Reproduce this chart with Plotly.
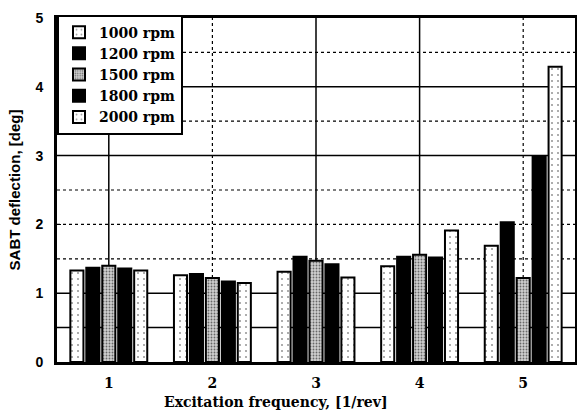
import plotly.graph_objects as go

categories = [1, 2, 3, 4, 5]
tick_labels = ["1", "2", "3", "4", "5"]
series_names = ["1000 rpm", "1200 rpm", "1500 rpm", "1800 rpm", "2000 rpm"]
rpm_1000 = [1.33, 1.26, 1.31, 1.39, 1.69]
rpm_1200 = [1.37, 1.28, 1.53, 1.53, 2.03]
rpm_1500 = [1.40, 1.22, 1.47, 1.56, 1.22]
rpm_1800 = [1.36, 1.17, 1.42, 1.52, 2.98]
rpm_2000 = [1.33, 1.15, 1.23, 1.91, 4.29]
y_ticks = [0, 1, 2, 3, 4, 5]

# grid line positions (as seen on the scanned chart)
x_grid_solid = [1, 3, 4]
x_grid_dashed = [2, 5]
y_grid_solid = [0.5, 1, 3, 4]
y_grid_dashed = [1.5, 2, 2.5, 3.5, 4.5]

series_values = [rpm_1000, rpm_1200, rpm_1500, rpm_1800, rpm_2000]
light = dict(color="white", pattern=dict(shape=".", fgcolor="#333333", bgcolor="white", size=6, solidity=0.1))
dense = dict(color="#999999", pattern=dict(shape=".", fgcolor="black", bgcolor="#d0d0d0", size=3, solidity=0.3))
styles = [light, dict(color="black"), dense, dict(color="black"), light]

fig = go.Figure()
for name, vals, st in zip(series_names, series_values, styles):
    marker = dict(line=dict(color="black", width=2), **st)
    fig.add_trace(go.Bar(x=categories, y=vals, name=name, marker=marker))

shapes = []
for xv in x_grid_solid:
    shapes.append(dict(type="line", xref="x", yref="paper", x0=xv, x1=xv, y0=0, y1=1,
                       line=dict(color="black", width=1.5), layer="below"))
for xv in x_grid_dashed:
    shapes.append(dict(type="line", xref="x", yref="paper", x0=xv, x1=xv, y0=0, y1=1,
                       line=dict(color="black", width=1.2, dash="dot"), layer="below"))
for yv in y_grid_solid:
    shapes.append(dict(type="line", xref="paper", yref="y", x0=0, x1=1, y0=yv, y1=yv,
                       line=dict(color="black", width=1.5), layer="below"))
for yv in y_grid_dashed:
    shapes.append(dict(type="line", xref="paper", yref="y", x0=0, x1=1, y0=yv, y1=yv,
                       line=dict(color="black", width=1.2, dash="dot"), layer="below"))

serif = "DejaVu Serif"
sans = "Liberation Sans"

fig.update_layout(
    width=577, height=413,
    margin=dict(l=57, r=2, t=18, b=51),
    plot_bgcolor="white", paper_bgcolor="white",
    barmode="group", bargap=0.23, bargroupgap=0.18,
    shapes=shapes,
    showlegend=True,
    legend=dict(x=0, y=1.01, xanchor="left", yanchor="top",
                bordercolor="black", borderwidth=2, bgcolor="white",
                font=dict(family=serif, size=14, color="black", weight="bold"),
                tracegroupgap=0, itemwidth=30),
    xaxis=dict(range=[0.5, 5.5], tickvals=categories, ticktext=tick_labels,
               showgrid=False, zeroline=False, showline=True, linecolor="black",
               linewidth=3, mirror=True, ticks="", ticklabelstandoff=6,
               tickfont=dict(family=serif, size=14, color="black", weight="bold")),
    yaxis=dict(range=[0, 5], tickvals=y_ticks, showgrid=False, zeroline=False,
               showline=True, linecolor="black", linewidth=3, mirror=True,
               ticks="inside", ticklen=4, tickcolor="black", ticklabelstandoff=8,
               automargin=False,
               tickfont=dict(family=sans, size=14, color="black", weight="bold"),
               title=dict(text="SABT deflection, [deg]", standoff=12,
                          font=dict(family=sans, size=15, color="black", weight="bold"))),
    annotations=[dict(text="Excitation frequency, [1/rev]", xref="paper", yref="paper",
                      x=0.423, y=-0.088, xanchor="center", yanchor="top", showarrow=False,
                      font=dict(family=serif, size=14, color="black", weight="bold"))],
)

fig.write_html("out.html", post_script="document.body.style.margin='0';",
               config={"displayModeBar": False})
